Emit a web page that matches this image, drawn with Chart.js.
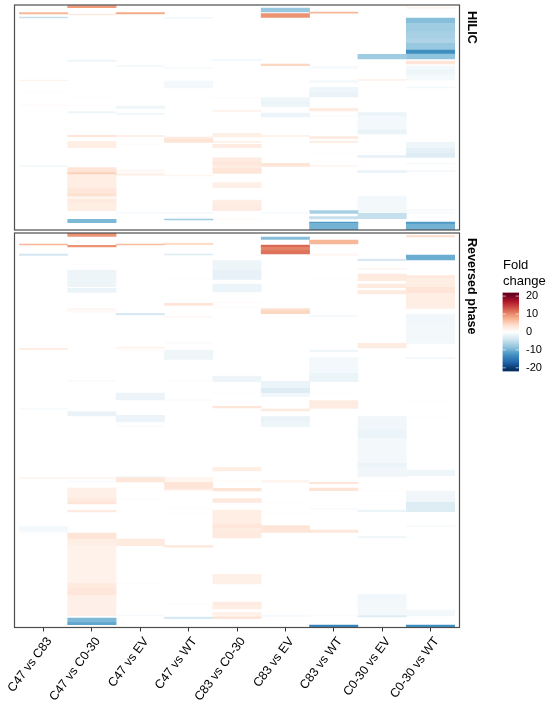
<!DOCTYPE html>
<html><head><meta charset="utf-8">
<style>html,body{margin:0;padding:0;background:#fff}canvas{position:absolute}</style>
<script src="https://cdn.jsdelivr.net/npm/chart.js@4"></script></head>
<body>
<canvas id="hilic" width="550" height="232" style="left:0;top:0"></canvas>
<canvas id="rp" width="550" height="478" style="left:0;top:232px"></canvas>
<canvas id="key" width="55" height="135" style="left:495px;top:250px"></canvas>
<script>
const comparisons=["C47 vs C83","C47 vs C0-30","C47 vs EV","C47 vs WT","C83 vs C0-30","C83 vs EV","C83 vs WT","C0-30 vs EV","C0-30 vs WT"];
const keyTicks=[-20,-10,0,10,20];
const hilicRows=225, rpRows=394.5;
// each band: [first row, last row, fold change]
const h_C47_C83=[[7.7,9,7],[12,13,-5],[75,75.7,1.5],[87,87.6,.4],[100,100.6,.6],[160.7,161.7,-1]];
const h_C47_C030=[[.7,2.7,9],[9,10,2.5],[55,56.3,-1.5],[92.4,93,.3],[106.7,108,-1.5],[130.3,131.7,3],[136.7,142.7,2],[162.7,167.7,3],[167.7,169.7,5],[169.7,183.3,2],[183.3,189,2.8],[189,191.7,3.5],[191.7,194.3,1.2],[194.3,198.3,2.5],[198.3,205.7,2],[214.3,217.7,-9.5]];
const h_C47_EV=[[7.7,9,8],[60.3,61.3,-1],[101,103.3,-1.5],[108,109.7,-1.3],[130.3,131.7,1.8],[139,139.6,.5],[165,166.3,1],[168.3,170.3,1.5],[207,208.3,-.7]];
const h_C47_WT=[[12.3,13.3,-1.2],[55,56,-.4],[62.3,63.3,-.7],[76,83,-1.2],[92.4,93,-.3],[111.4,112,-.3],[132,134.3,2.2],[134.3,137.3,3.2],[170,171,1],[207.3,208.6,-.7],[214,215,-7.5]];
const h_C83_C030=[[54.3,55.7,-1.2],[77.4,78,-.3],[92.4,93,.5],[105.3,106.3,1.5],[128.3,132,1.8],[136.3,137.7,1.5],[139.3,142.7,2.2],[152.7,156.7,2.2],[156.7,160,2.8],[160,163.3,2.2],[163.3,168.3,3],[177.7,182.7,1.8],[195,199,2],[199,205.7,2.2],[214,215,.5]];
const h_C83_EV=[[3,7,-8],[8.7,12.3,9.5],[59,60.7,4.5],[92.7,97,-1.5],[97,99,-2],[99,101.7,-1.5],[108,112,-1.7],[130.3,131.7,1.5],[158.3,161.3,3],[207,208.3,-.6]];
const h_C83_WT=[[7,8.2,7],[61,63.3,-.8],[75.7,77.7,-1],[82.3,87.7,-1.5],[87.7,92,-2],[103.7,106,2.5],[110.7,111.4,-.5],[131.7,133.3,2.5],[136,137.7,1.8],[147.4,148,-.4],[160.3,161.3,1],[205.7,208.3,-7],[211.7,214,-5],[217,218.5,-12],[218.5,225,-10]];
const h_C030_EV=[[49.3,54,-7.5],[74.3,75.3,1.5],[107.7,111,-1.8],[111,125,-1.2],[125,129,-2],[147,147.7,-.5],[150.7,152.3,-2.2],[165.7,167.7,-2],[191.7,196,-1.3],[196,208,-1.1],[208.3,213.7,-5]];
const h_C030_WT=[[2,3.5,1.2],[13,18.3,-9],[18.3,26.7,-7.5],[26.7,33.3,-7],[33.3,38.3,-6.5],[38.3,45,-8],[45,49,-13],[49,54,-8.5],[56,59,3],[61,65,-1.2],[65,70,-1.5],[70,75,-1],[82,83,-1.3],[111.4,112,-.4],[137.3,143.3,-1.5],[143.3,148.3,-2.5],[148.3,152.3,-3],[158,159,-.8],[165.7,167,-.9],[204.3,205.7,-.8],[207,208.3,-.6],[217,219,-12],[219,225,-10]];
const r_C47_C83=[[11,12,7],[21,22.3,-4],[115.3,116.7,2],[175.3,176.3,-.7],[244.3,245.3,1.3],[293.7,297.7,-1.2],[298.3,299.7,-.7]];
const r_C47_C030=[[0,3.3,9.5],[12.3,14,9.5],[37,53.7,-1.6],[55.3,59.3,-1.8],[75.3,77,1],[77,79.3,.6],[147.3,148.3,-.6],[178.7,183,-2],[244.3,246,1],[248,249,-.6],[255,265.3,1.8],[265.3,269,2.4],[269,271,3],[277.3,279,2.4],[300,306,3],[306,312,2],[312,350.3,1.5],[350.3,355.3,2.4],[355.3,362.7,2.8],[362.7,382.7,1.7],[385,389.7,-9.5],[389.7,391.7,-11]];
const r_C47_EV=[[11,12,6.5],[80.3,82,-3.5],[114,115.3,1.3],[117.4,118,.5],[160,167,-1.7],[182.3,189,-1.7],[192.3,193.7,-.5],[243.3,244.7,-1],[244.7,249,2.8],[254,254.6,.4],[266,266.7,.4],[306,312.7,2.4],[350,350.6,.4],[382,383,-.6]];
const r_C47_WT=[[10,11.7,4],[21,22,-3],[46,46.6,-.4],[70.3,72.3,3],[83.3,84.3,.8],[109.7,111,-.5],[117,126.3,-1.5],[147.7,148.3,-.4],[166,167.3,-.5],[244.3,249.3,1],[249.3,256.3,3],[256.3,257.3,1.5],[275,275.6,.4],[280,280.6,.4],[312.3,314.3,2.4],[370.7,371.3,.3],[384,385.7,-3.5]];
const r_C83_C030=[[27.7,37.7,-1.6],[37.7,46.3,-2.2],[51,59,-1.8],[69,69.7,.6],[74,74.6,.5],[143,148.7,-1.6],[159,159.6,.3],[173.3,175,3],[234.3,238,2],[247.7,248.3,.5],[255.3,258,3.2],[265.7,269.3,2.6],[277,291,2],[291,295.7,2.8],[295.7,297.7,2],[297.7,305,2.5],[341.3,351,1.8],[369,372.7,2.2],[372.7,376,2],[379.7,382.3,1.8],[383.7,385.7,3]];
const r_C83_EV=[[4,6.3,-9],[12,14.3,12],[14.3,17.7,10.5],[17.7,21,11.5],[75.7,77.7,3.5],[77.7,80.7,4.5],[148.3,155.3,-1.8],[155.3,160.3,-3],[160.3,163.7,-1.3],[176,178,2.5],[183.7,188.7,-2],[188.7,193.7,-1.5],[247.3,249.3,1.2],[269,269.6,.3],[280,280.6,.3],[292.7,299.3,3],[382,383.7,-.7]];
const r_C83_WT=[[7,11,7],[21,22.3,1],[46,46.6,-.3],[82.3,83.7,-.8],[117,118.7,-1.5],[124.7,140.3,-1.2],[140.3,148.7,-1.8],[155,155.6,-.4],[159,159.6,-.4],[167.7,175.3,2.2],[192.4,193,-.4],[249.3,250.7,3],[255,257.7,3.2],[275.3,276.3,-.6],[297,299.3,2.8],[382,383,-.5],[392,394.5,-14]];
const r_C030_EV=[[26,27.7,-3.5],[35.3,36.3,1],[41,47.7,2.5],[51,54.7,2.5],[57.7,61,2.5],[110.3,115,2.2],[183.7,197,-1.4],[197,205.3,-1.8],[205.3,230.3,-1.1],[230.3,233.7,-2],[233.7,243.7,-1.4],[257.4,258,.3],[277,278.7,-1.8],[303.7,304.7,-1.5],[361.3,368.7,-1.3],[368.7,382,-1.1],[382.7,384,-3]];
const r_C030_WT=[[2.7,4,4],[22,27,-10.5],[42.7,45.3,2.6],[45.3,54.3,2],[54.3,60.3,3],[60.3,75.3,2],[81,93.7,-1.3],[93.7,110.3,-1.1],[124.3,125.7,-1.2],[160,160.6,-.3],[167.4,168,-.3],[183.4,184,-.3],[193,193.6,-.3],[237,242.7,-1.5],[250,250.6,-.4],[258,269.3,-1.4],[269.3,278.7,-3],[292.7,293.7,-.7],[304.4,305,-.4],[377,383,-1.1],[392,394.5,-13]];
const hilicColumns=[h_C47_C83,h_C47_C030,h_C47_EV,h_C47_WT,h_C83_C030,h_C83_EV,h_C83_WT,h_C030_EV,h_C030_WT];
const rpColumns=[r_C47_C83,r_C47_C030,r_C47_EV,r_C47_WT,r_C83_C030,r_C83_EV,r_C83_WT,r_C030_EV,r_C030_WT];

const FONT='"Liberation Sans", Arial, sans-serif';
const redRamp=[[255,255,255],[253,219,199],[244,165,130],[214,96,77],[178,24,43],[103,0,31]];
const blueRamp=[[255,255,255],[209,229,240],[146,197,222],[67,147,195],[33,102,172],[5,48,97]];
function foldColor(v){
  const ramp=v<0?blueRamp:redRamp, t=Math.min(Math.abs(v)/4.2,4.999), i=Math.floor(t), f=t-i;
  const c=ramp[i].map((a,k)=>Math.round(a+(ramp[i+1][k]-a)*f));
  return `rgb(${c[0]},${c[1]},${c[2]})`;
}
const toDataset=(bands,i)=>({data:bands.map(b=>({x:i,y:[b[0],b[1]]})),backgroundColor:bands.map(b=>foldColor(b[2])),grouped:false,barPercentage:1,categoryPercentage:1,borderWidth:0});
const panelFrame={id:'panelFrame',afterDraw(c){const a=c.chartArea,x=c.ctx;x.save();x.strokeStyle='#4d4d4d';x.lineWidth=1.2;x.strokeRect(a.left,a.top,a.right-a.left,a.bottom-a.top);x.restore();}};
const stripLabel={id:'stripLabel',afterDraw(c,_,o){const a=c.chartArea,x=c.ctx;x.save();x.translate(a.right+5.5,a.top+o.offset);x.rotate(Math.PI/2);x.font='bold 12.6px '+FONT;x.fillStyle='#000';x.textAlign='left';x.textBaseline='bottom';x.fillText(o.text,0,0);x.restore();}};
function panel(id,columns,rows,text,offset,showAxis,padTop,padBottom){
  return new Chart(document.getElementById(id),{type:'bar',data:{datasets:columns.map(toDataset)},plugins:[panelFrame,stripLabel],
   options:{responsive:false,animation:false,events:[],layout:{padding:{left:14.5,right:90.5,top:padTop,bottom:padBottom}},
    plugins:{legend:{display:false},tooltip:{enabled:false},stripLabel:{text,offset}},
    scales:{
     y:{display:false,reverse:true,min:0,max:rows},
     x:{type:'linear',offset:false,display:showAxis,min:-.6,max:8.6,border:{display:false},
        grid:{offset:false,drawOnChartArea:false,drawTicks:true,tickLength:4,tickColor:'#333',tickWidth:1},
        afterBuildTicks:s=>{s.ticks=comparisons.map((_,i)=>({value:i}));},
        afterFit:s=>{if(showAxis){s.height=82.5;}s.paddingLeft=0;s.paddingRight=0;},
        ticks:{autoSkip:false,minRotation:53,maxRotation:53,padding:3,labelOffset:6,color:'#000',font:{family:FONT,size:12.4},callback:v=>comparisons[v]}}
    }}});
}
panel('hilic',hilicColumns,hilicRows,'HILIC',6,false,5,2);
panel('rp',rpColumns,rpRows,'Reversed phase',5,true,1,0);

const keyMarks={id:'keyMarks',afterDraw(c){const a=c.chartArea,y=c.scales.y,x=c.ctx,w=(a.right-a.left)/5;x.save();x.strokeStyle='#fff';x.lineWidth=.6;
  keyTicks.forEach(t=>{const p=y.getPixelForValue(t);x.beginPath();x.moveTo(a.left,p);x.lineTo(a.left+w,p);x.moveTo(a.right-w,p);x.lineTo(a.right,p);x.stroke();});
  x.fillStyle='#000';x.font='13px '+FONT;x.textAlign='left';x.textBaseline='alphabetic';x.fillText('Fold',8,19);x.fillText('change',8,35);x.restore();}};
new Chart(document.getElementById('key'),{type:'bar',
 data:{labels:['Fold change'],datasets:[{data:[[-22,22]],barPercentage:1,categoryPercentage:1,borderWidth:0,
   backgroundColor:ctx=>{const c=ctx.chart,a=c.chartArea;if(!a)return '#fff';const g=c.ctx.createLinearGradient(0,a.top,0,a.bottom);
     for(let i=0;i<=44;i++){g.addColorStop(i/44,foldColor(22-i));}return g;}}]},
 plugins:[keyMarks],
 options:{responsive:false,animation:false,events:[],layout:{padding:{left:7.5,right:0,top:42.5,bottom:10.5}},
  plugins:{legend:{display:false},tooltip:{enabled:false}},
  scales:{x:{display:false},
   y:{position:'right',min:-22,max:22,border:{display:false},grid:{display:false,drawTicks:false},
      afterBuildTicks:s=>{s.ticks=keyTicks.map(value=>({value}));},
      afterFit:s=>{s.width=31;},
      ticks:{padding:7,color:'#000',font:{family:FONT,size:11},autoSkip:false,callback:v=>String(v)}}}}});
</script>
</body></html>
